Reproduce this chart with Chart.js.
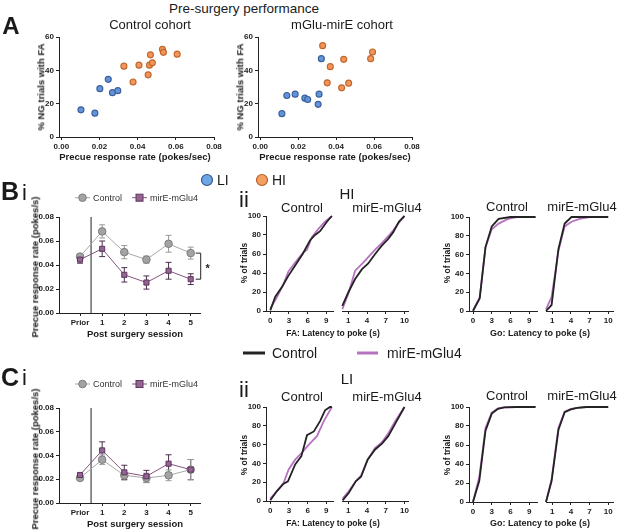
<!DOCTYPE html>
<html><head><meta charset="utf-8">
<script src="https://cdn.jsdelivr.net/npm/chart.js@4"></script>
<style>
body{margin:0;background:#fff;width:617px;height:530px;position:relative;overflow:hidden;font-family:'Liberation Sans',Arial,sans-serif;color:#1a1a1a}
canvas{position:absolute}
.t{position:absolute;white-space:nowrap;transform:translate(-50%,-50%);line-height:1}
.l{position:absolute;white-space:nowrap;transform:translate(0,-50%);line-height:1}
.r{transform:translate(-50%,-50%) rotate(-90deg)}
svg{position:absolute;overflow:visible}
</style></head><body>
<script>
// ---------- Panel A: pre-surgery scatter ----------
const ctrlLI_x = [0.0103,0.0176,0.0202,0.0246,0.0268,0.0296];
const ctrlLI_y = [16.3,14.3,29.0,34.6,26.6,27.8];
const ctrlHI_x = [0.0328,0.0376,0.0407,0.0455,0.0462,0.0467,0.0477,0.0530,0.0535,0.0607];
const ctrlHI_y = [42.5,33.0,43.1,37.3,43.1,49.3,44.5,52.6,50.8,49.7];
const mirLI_x = [0.0114,0.0140,0.0184,0.0235,0.0250,0.0305,0.0310,0.0322];
const mirLI_y = [14.0,24.9,25.7,23.3,22.5,19.6,25.7,47.0];
const mirHI_x = [0.0329,0.0353,0.0369,0.0429,0.0440,0.0466,0.0582,0.0592];
const mirHI_y = [54.8,32.5,42.2,29.5,46.6,32.3,47.0,51.0];
const scatterXTicks = [0,0.02,0.04,0.06,0.08];
const scatterYTicks = [0,20,40,60];

// ---------- Panels B-i / C-i: precue response rate by session ----------
const sessions = ['Prior','1','2','3','4','5'];
const rateTicks = [0,0.02,0.04,0.06,0.08];
const hiCtrl    = [0.047,0.068,0.0507,0.0445,0.0577,0.0499];
const hiCtrlErr = [0.002,0.0055,0.0055,0.003,0.007,0.005];
const hiMir     = [0.0445,0.0535,0.0318,0.0254,0.0352,0.0282];
const hiMirErr  = [0.003,0.0065,0.006,0.0055,0.007,0.0045];
const liCtrl    = [0.0211,0.0365,0.0233,0.0211,0.0233,0.0281];
const liCtrlErr = [0.002,0.004,0.004,0.004,0.0045,0.0085];
const liMir     = [0.0236,0.0443,0.0258,0.0225,0.0331,0.0281];
const liMirErr  = [0.0015,0.0072,0.006,0.005,0.0075,0.0085];

// ---------- Panels B-ii / C-ii: cumulative latency (% of trials) ----------
const pctTicks = [0,20,40,60,80,100];
const leftLatTicks = [0,3,6,9];
const rightLatTicks = [1,4,7,10];
// HI, FA latency
const hiFA_ctrlGrp_x = [0,0.8,1.9,2.9,4.0,5.2,6.4,7.2,8.0,9.1,9.9];
const hiFA_ctrlGrp_ctrl = [0.7,15,25.5,37,48,60,74.5,80,84,94,100];
const hiFA_ctrlGrp_mir_x = [0,1.1,2.1,2.9,4.0,5.2,5.9,6.7,7.8,8.8,9.9];
const hiFA_ctrlGrp_mir = [2.5,15,28,41.5,51,61,64.5,78,87,94,100];
const hiFA_mirGrp_x = [0.05,1.0,2.1,3.2,4.2,5.3,6.4,7.4,8.2,9.1,10.0];
const hiFA_mirGrp_ctrl = [5.3,19.5,33.7,44,50,60,69,76,83,94,100];
const hiFA_mirGrp_mir = [1.8,18,42.5,49.6,56.7,64.5,71.6,78.7,85,93,100];
// HI, Go latency
const hiGo_ctrlGrp_ctrl_x = [0,1.07,2,3,4.1,6,10];
const hiGo_ctrlGrp_ctrl = [0,13.4,68,90,98,100,100];
const hiGo_ctrlGrp_mir_x = [0,1.07,2,3,4.1,5.6,7,10];
const hiGo_ctrlGrp_mir = [1,14.5,68,87,93,98,100,100];
const hiGo_mirGrp_ctrl_x = [0,0.9,2,3,4.1,10];
const hiGo_mirGrp_ctrl = [0,6.4,66,93,100,100];
const hiGo_mirGrp_mir_x = [0,0.9,2,3,4.1,5.4,7,10];
const hiGo_mirGrp_mir = [1.8,15,64,90,95,98,100,100];
// LI, FA latency
const liFA_ctrlGrp_ctrl_x = [0,1.07,2.14,2.84,4.0,5.0,5.9,7.0,8.0,8.8,9.6,9.9];
const liFA_ctrlGrp_ctrl = [0.7,10.6,18.4,21,39,47.7,70,74,85,96.5,100,100];
const liFA_ctrlGrp_mir_x = [0,1.07,2.14,2.95,4.0,5.0,6.2,7.5,8.6,9.9];
const liFA_ctrlGrp_mir = [2.5,10.6,19.4,33.6,44,51,60,69,85,100];
const liFA_mirGrp_x = [0.1,1.1,2.2,3.05,4.1,5.3,6.4,7.4,8.5,10.0];
const liFA_mirGrp_ctrl = [0.7,8.8,21,25.8,44,54.8,61,69,82,100];
const liFA_mirGrp_mir = [2.5,10.6,21,27,44,56.5,62.5,72,85,100];
// LI, Go latency
const liGo_ctrlGrp_x = [0,1,2,3,4,5,7,10];
const liGo_ctrlGrp_ctrl = [0,22,75,93,98,99.5,100,100];
const liGo_ctrlGrp_mir = [0.5,26,78,94,98.5,99.5,100,100];
const liGo_mirGrp_x = [0,0.9,2,3,4,5,6.5,10];
const liGo_mirGrp_ctrl = [0,22,76,94.5,97.5,99,100,100];
const liGo_mirGrp_mir = [0,24,78,95,98,99,100,100];

// ---------- styling ----------
const FONT = "'Liberation Sans', Arial, sans-serif";
const INK = '#222';
const BLUE = '#6494d8', BLUE_B = '#3a5f9c';
const ORANGE = '#f2955a', ORANGE_B = '#c0662c';
const GREY = '#a3a3a3', GREY_B = '#7d7d7d', GREY_L = '#a8a8a8';
const PURP = '#946493', PURP_B = '#5e355e', PURP_L = '#86557f';
const BLACK_L = '#232323', ORCHID = '#b872c2';
const tickFont = {family: FONT, size: 8, weight: 'bold'};
const PT = 8, PR = 14, YW = 30, XH = 16;

function pts(xs, ys) { return xs.map((x, i) => ({x, y: ys[i]})); }

function axis(min, max, ticks, isX, cb) {
  return {
    type: 'linear', min, max,
    afterBuildTicks: s => { s.ticks = ticks.map(v => ({value: v})); },
    afterFit: s => { if (isX) s.height = XH; else s.width = YW; },
    grid: {display: true, drawOnChartArea: false, drawTicks: true, tickLength: 3, tickColor: INK, tickWidth: 1},
    border: {display: true, color: INK, width: 1},
    ticks: {font: tickFont, color: INK, padding: 2, maxRotation: 0, autoSkip: false,
            callback: cb || (v => v)}
  };
}

const errPlugin = {
  id: 'errbars',
  beforeDatasetsDraw(ch) {
    const {ctx, scales: {x, y}} = ch;
    ch.data.datasets.forEach(ds => {
      if (!ds.errs) return;
      ctx.save();
      ctx.strokeStyle = ds.errColor; ctx.lineWidth = 1;
      ds.data.forEach((p, i) => {
        const px = x.getPixelForValue(p.x);
        const y1 = y.getPixelForValue(p.y + ds.errs[i]);
        const y2 = y.getPixelForValue(p.y - ds.errs[i]);
        ctx.beginPath();
        ctx.moveTo(px, y1); ctx.lineTo(px, y2);
        ctx.moveTo(px - 3, y1); ctx.lineTo(px + 3, y1);
        ctx.moveTo(px - 3, y2); ctx.lineTo(px + 3, y2);
        ctx.stroke();
      });
      ctx.restore();
    });
  }
};
const sepPlugin = {
  id: 'sep',
  beforeDatasetsDraw(ch) {
    const {ctx, chartArea, scales: {x}} = ch;
    const px = x.getPixelForValue(0.5);
    ctx.save(); ctx.strokeStyle = '#6a6a6a'; ctx.lineWidth = 1.5;
    ctx.beginPath(); ctx.moveTo(px, chartArea.top); ctx.lineTo(px, chartArea.bottom); ctx.stroke();
    ctx.restore();
  }
};
const bracketPlugin = {
  id: 'bracket',
  afterDatasetsDraw(ch) {
    const {ctx, scales: {x, y}} = ch;
    const last = sessions.length - 1;
    const px = x.getPixelForValue(last) + 10;
    const y1 = y.getPixelForValue(hiCtrl[last]), y2 = y.getPixelForValue(hiMir[last]);
    ctx.save(); ctx.strokeStyle = INK; ctx.lineWidth = 1;
    ctx.beginPath(); ctx.moveTo(px - 5, y1); ctx.lineTo(px, y1); ctx.lineTo(px, y2); ctx.lineTo(px - 5, y2); ctx.stroke();
    ctx.fillStyle = INK; ctx.font = 'bold 11px ' + FONT; ctx.textAlign = 'center'; ctx.textBaseline = 'middle';
    ctx.fillText('*', px + 7, (y1 + y2) / 2 + 3);
    ctx.restore();
  }
};

function make(area, cfg, hasY) {
  const [l, t, r, b] = area;
  const yw = hasY ? YW : 0, pl = hasY ? 0 : 6;
  const c = document.createElement('canvas');
  const left = l - yw - pl, top = t - PT;
  const w = Math.round(r - l + yw + pl + PR), h = Math.round(b - t + PT + XH);
  c.style.left = left + 'px'; c.style.top = top + 'px';
  c.width = w; c.height = h; c.style.width = w + 'px'; c.style.height = h + 'px';
  document.body.appendChild(c);
  cfg.options = Object.assign({
    responsive: false, animation: false, devicePixelRatio: 1,
    layout: {padding: {top: PT, right: PR, left: pl, bottom: 0}},
    plugins: {legend: {display: false}, tooltip: {enabled: false}},
    events: []
  }, cfg.options);
  new Chart(c, cfg);
}

function text(s, x, y, size, weight, cls, color) {
  const d = document.createElement('div');
  d.className = cls || 't';
  d.textContent = s;
  d.style.left = x + 'px'; d.style.top = y + 'px';
  d.style.fontSize = size + 'px';
  d.style.fontWeight = weight || 'normal';
  if (color) d.style.color = color;
  document.body.appendChild(d);
}
function svg(html, x, y) {
  const s = document.createElementNS('http://www.w3.org/2000/svg', 'svg');
  s.setAttribute('width', '1'); s.setAttribute('height', '1');
  s.style.left = x + 'px'; s.style.top = y + 'px';
  s.innerHTML = html;
  document.body.appendChild(s);
}

// ---------- Panel A ----------
function scatterCfg(liX, liY, hiX, hiY) {
  const base = {pointRadius: 3, borderWidth: 1.1, clip: false};
  return {
    type: 'scatter',
    data: {datasets: [
      Object.assign({data: pts(liX, liY), backgroundColor: BLUE, borderColor: BLUE_B}, base),
      Object.assign({data: pts(hiX, hiY), backgroundColor: ORANGE, borderColor: ORANGE_B}, base)
    ]},
    options: {scales: {
      x: axis(-0.0012, 0.08, scatterXTicks, true, v => v.toFixed(2)),
      y: axis(0, 60, scatterYTicks, false)
    }}
  };
}
make([59, 37, 214, 137], scatterCfg(ctrlLI_x, ctrlLI_y, ctrlHI_x, ctrlHI_y), true);
make([257.5, 37, 411.5, 137], scatterCfg(mirLI_x, mirLI_y, mirHI_x, mirHI_y), true);

text('Pre-surgery performance', 244, 9, 13.5);
text('Control cohort', 150, 24, 13);
text('mGlu-mirE cohort', 342, 24, 13);
text('A', 11, 26, 24, 'bold');
text('% NG trials with FA', 41, 87, 9.5, 'bold', 't r');
text('% NG trials with FA', 240, 87, 9.5, 'bold', 't r');
text('Precue response rate (pokes/sec)', 135, 157, 9.5, 'bold');
text('Precue response rate (pokes/sec)', 335, 157, 9.5, 'bold');
svg(`<circle cx="207" cy="180" r="5.5" fill="#6fa6e6" stroke="#35588f" stroke-width="1.2"/>
     <circle cx="262" cy="180" r="5.5" fill="#f5a060" stroke="#b8622b" stroke-width="1.2"/>`, 0, 0);
text('LI', 217, 180, 14, 'normal', 'l');
text('HI', 272, 180, 14, 'normal', 'l');

// ---------- Panels B-i / C-i ----------
function sessionCfg(ctrl, ctrlErr, mir, mirErr, extra) {
  const xs = sessions.map((s, i) => i);
  return {
    type: 'scatter',
    data: {datasets: [
      {data: pts(xs, mir), errs: mirErr, errColor: '#4a2f4a', showLine: true, borderColor: PURP_L, borderWidth: 1,
       pointStyle: 'rect', pointRadius: 3.6, pointBackgroundColor: PURP, pointBorderColor: PURP_B, pointBorderWidth: 1, clip: false},
      {data: pts(xs, ctrl), errs: ctrlErr, errColor: '#9a9a9a', showLine: true, borderColor: GREY_L, borderWidth: 1,
       pointStyle: 'circle', pointRadius: 3.8, pointBackgroundColor: GREY, pointBorderColor: GREY_B, pointBorderWidth: 1, clip: false}
    ]},
    options: {scales: {
      x: axis(-0.95, 5.42, xs, true, v => sessions[v]),
      y: axis(0, 0.08, rateTicks, false, v => v.toFixed(2))
    }},
    plugins: [errPlugin, sepPlugin].concat(extra || [])
  };
}
make([59, 217.3, 200, 313.3], sessionCfg(hiCtrl, hiCtrlErr, hiMir, hiMirErr, [bracketPlugin]), true);
make([59, 408.3, 200, 503.3], sessionCfg(liCtrl, liCtrlErr, liMir, liMirErr), true);

function sessLegend(y) {
  svg(`<line x1="75" y1="${y}" x2="90" y2="${y}" stroke="${GREY_L}" stroke-width="1"/>
       <circle cx="82.5" cy="${y}" r="3.8" fill="${GREY}" stroke="${GREY_B}" stroke-width="1"/>
       <line x1="132" y1="${y}" x2="147" y2="${y}" stroke="${PURP_L}" stroke-width="1"/>
       <rect x="136" y="${y - 3.5}" width="7" height="7" fill="${PURP}" stroke="${PURP_B}" stroke-width="1"/>`, 0, 0);
  text('Control', 93, y, 9, 'normal', 'l', '#333');
  text('mirE-mGlu4', 150, y, 9, 'normal', 'l', '#333');
}
text('B', 10, 191, 25, 'bold');
text('i', 24.5, 193, 22);
sessLegend(197.7);
text('Precue response rate (pokes/s)', 35, 267, 9.5, 'bold', 't r');
text('Post surgery session', 135, 334, 9.5, 'bold');

text('C', 10, 377, 25, 'bold');
text('i', 24.5, 378, 22);
sessLegend(384);
text('Precue response rate (pokes/s)', 35, 459, 9.5, 'bold', 't r');
text('Post surgery session', 135, 524, 9.5, 'bold');

// ---------- Panels B-ii / C-ii ----------
function cumCfg(ctrlX, ctrlY, mirX, mirY, xmin, xmax, xticks, hasY) {
  return {
    type: 'scatter',
    data: {datasets: [
      {data: pts(ctrlX, ctrlY), showLine: true, borderColor: BLACK_L, borderWidth: 1.8, pointRadius: 0, clip: false},
      {data: pts(mirX, mirY), showLine: true, borderColor: ORCHID, borderWidth: 1.8, pointRadius: 0, clip: false}
    ]},
    options: {scales: {
      x: axis(xmin, xmax, xticks, true),
      y: hasY ? axis(0, 100, pctTicks, false) : {display: false, min: 0, max: 100}
    }}
  };
}
// B-ii HI
make([266, 216, 333, 310.5], cumCfg(hiFA_ctrlGrp_x, hiFA_ctrlGrp_ctrl, hiFA_ctrlGrp_mir_x, hiFA_ctrlGrp_mir, -0.69, 10.08, leftLatTicks, true), true);
make([342.3, 216, 408, 310.5], cumCfg(hiFA_mirGrp_x, hiFA_mirGrp_ctrl, hiFA_mirGrp_x, hiFA_mirGrp_mir, 0, 10.56, rightLatTicks, false), false);
make([469.3, 216.7, 537, 311], cumCfg(hiGo_ctrlGrp_ctrl_x, hiGo_ctrlGrp_ctrl, hiGo_ctrlGrp_mir_x, hiGo_ctrlGrp_mir, -0.64, 10.24, leftLatTicks, true), true);
make([546, 216.7, 613, 311], cumCfg(hiGo_mirGrp_ctrl_x, hiGo_mirGrp_ctrl, hiGo_mirGrp_mir_x, hiGo_mirGrp_mir, 0, 10.77, rightLatTicks, false), false);
// C-ii LI
make([266, 407.3, 333, 501.7], cumCfg(liFA_ctrlGrp_ctrl_x, liFA_ctrlGrp_ctrl, liFA_ctrlGrp_mir_x, liFA_ctrlGrp_mir, -0.69, 10.08, leftLatTicks, true), true);
make([342.3, 407.3, 408, 501.7], cumCfg(liFA_mirGrp_x, liFA_mirGrp_ctrl, liFA_mirGrp_x, liFA_mirGrp_mir, 0, 10.56, rightLatTicks, false), false);
make([469.3, 407.3, 537, 502.7], cumCfg(liGo_ctrlGrp_x, liGo_ctrlGrp_ctrl, liGo_ctrlGrp_x, liGo_ctrlGrp_mir, -0.64, 10.24, leftLatTicks, true), true);
make([546, 407.3, 613, 502.7], cumCfg(liGo_mirGrp_x, liGo_mirGrp_ctrl, liGo_mirGrp_x, liGo_mirGrp_mir, 0, 10.77, rightLatTicks, false), false);

function cumTexts(title, yTitle, ySub, yMid, yX) {
  text(title, 347, yTitle, 15);
  text('Control', 302, ySub, 13);
  text('mirE-mGlu4', 387, ySub, 13);
  text('Control', 507, ySub - 1, 13);
  text('mirE-mGlu4', 582, ySub - 1, 13);
  text('% of trials', 244, yMid, 8.5, 'bold', 't r');
  text('% of trials', 447, yMid, 8.5, 'bold', 't r');
  text('FA: Latency to poke (s)', 333, yX, 8.5, 'bold');
  text('Go: Latency to poke (s)', 540, yX, 9, 'bold');
}
text('ii', 244, 200, 22);
cumTexts('HI', 193, 207, 263, 333);
text('ii', 244, 390, 22);
cumTexts('LI', 378, 396, 455, 523);

// line legend
svg(`<line x1="243" y1="353" x2="265" y2="353" stroke="${BLACK_L}" stroke-width="3"/>
     <line x1="357" y1="353" x2="378" y2="353" stroke="${ORCHID}" stroke-width="3"/>`, 0, 0);
text('Control', 272, 353, 14, 'normal', 'l');
text('mirE-mGlu4', 387, 353, 14, 'normal', 'l');
</script>
</body></html>
